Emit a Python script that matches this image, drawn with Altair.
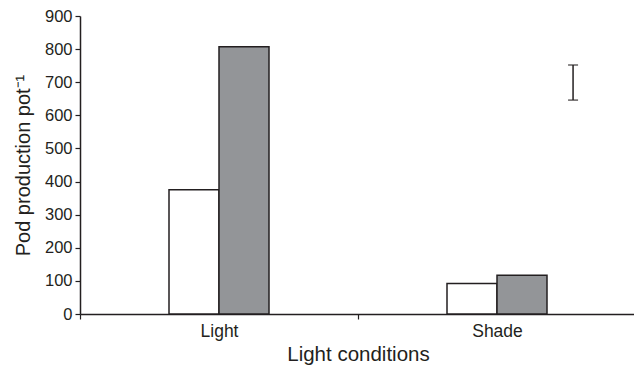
import altair as alt
import pandas as pd

conditions = ["Light", "Light", "Shade", "Shade"]
series = ["Series 1", "Series 2", "Series 1", "Series 2"]
pods = [375, 807, 92, 117]

err_pos = [0.89]
err_low = [646]
err_high = [752]

y_ticks = [0, 100, 200, 300, 400, 500, 600, 700, 800, 900]

df = pd.DataFrame({"condition": conditions, "series": series, "pods": pods})
err = pd.DataFrame({"pos": err_pos, "low": err_low, "high": err_high})

FONT = "Liberation Sans"
INK = "#231f20"
W, H = 554, 298

y_axis = alt.Axis(
    title="Pod production pot⁻¹",
    values=y_ticks,
    grid=False,
    labelOverlap=False,
    labelFontSize=16.5,
    labelPadding=3,
    titleFontSize=20,
    titlePadding=11,
)
y_scale = alt.Scale(domain=[0, 900], nice=False)

bars = alt.Chart(df).mark_bar(stroke=INK, strokeWidth=1.5).encode(
    x=alt.X(
        "condition:N",
        sort=["Light", "Shade"],
        scale=alt.Scale(paddingInner=0, paddingOuter=0, range=[0, 556]),
        axis=alt.Axis(
            title="Light conditions",
            labelAngle=0,
            tickBand="extent",
            labelFontSize=17.5,
            labelPadding=3,
            titleFontSize=20.5,
            titlePadding=5,
        ),
    ),
    xOffset=alt.XOffset(
        "series:N",
        sort=["Series 1", "Series 2"],
        scale=alt.Scale(paddingInner=0, paddingOuter=0, range=[89, 189]),
    ),
    y=alt.Y("pods:Q", scale=y_scale, axis=y_axis),
    fill=alt.Fill(
        "series:N",
        scale=alt.Scale(domain=["Series 1", "Series 2"], range=["#ffffff", "#939598"]),
        legend=None,
    ),
)

xq = alt.X("pos:Q", scale=alt.Scale(domain=[0, 1]), axis=None)

err_rule = alt.Chart(err).mark_rule(color=INK, strokeWidth=1.5).encode(
    x=xq, y=alt.Y("low:Q", scale=y_scale, axis=y_axis), y2="high:Q"
)
cap_low = alt.Chart(err).mark_tick(color=INK, orient="horizontal", size=10, thickness=1.5).encode(
    x=xq, y=alt.Y("low:Q", scale=y_scale, axis=y_axis)
)
cap_high = alt.Chart(err).mark_tick(color=INK, orient="horizontal", size=10, thickness=1.5).encode(
    x=xq, y=alt.Y("high:Q", scale=y_scale, axis=y_axis)
)

chart = (
    alt.layer(bars, err_rule, cap_low, cap_high)
    .resolve_scale(x="independent")
    .properties(
        width=W,
        height=H,
        autosize=alt.AutoSizeParams(type="none"),
        padding={"left": 80, "top": 16, "right": 0, "bottom": 52},
        background="white",
    )
    .configure_view(stroke=None)
    .configure_axis(
        labelFont=FONT,
        titleFont=FONT,
        labelColor=INK,
        titleColor=INK,
        titleFontWeight="normal",
        domainColor=INK,
        domainWidth=1.5,
        tickColor=INK,
        tickWidth=1.2,
        tickSize=5,
    )
)

chart.save("out.html", embed_options={"renderer": "svg", "actions": False})
